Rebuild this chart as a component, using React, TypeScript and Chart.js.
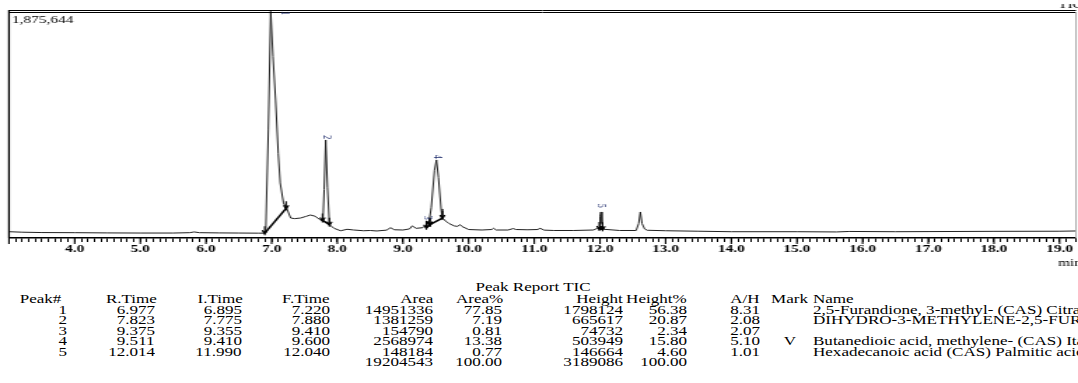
import React, { useEffect, useRef } from 'react';
import { Chart, registerables } from 'chart.js';

Chart.register(...registerables);

// ---------- data ----------
const traceTime = [
  3.0, 3.2, 3.5, 4.0, 4.5, 5.0, 5.5, 5.75, 5.82, 5.9, 6.2, 6.5, 6.8, 6.88,
  6.91, 6.95, 6.985, 7.02, 7.06, 7.1, 7.13, 7.18, 7.24, 7.29, 7.35, 7.44, 7.52, 7.59, 7.66, 7.74, 7.78,
  7.8, 7.823, 7.85, 7.88, 7.95, 8.05, 8.15, 8.25, 8.4, 8.5, 8.6, 8.75, 8.81, 8.87, 9.0, 9.1, 9.14, 9.2,
  9.3, 9.36, 9.375, 9.39, 9.43, 9.48, 9.51, 9.54, 9.58, 9.6, 9.65, 9.7, 9.78, 9.83, 9.87, 9.9, 10.0,
  10.2, 10.35, 10.38, 10.42, 10.6, 10.68, 10.72, 10.9, 11.05, 11.09, 11.15, 11.3, 11.6, 11.9, 11.96,
  11.99, 12.0, 12.014, 12.03, 12.06, 12.3, 12.55, 12.59, 12.615, 12.64, 12.68, 12.72, 13.0, 13.5, 14.0,
  15.0, 15.6, 15.8, 16.5, 17.0, 18.0, 19.0, 19.25,
];
const traceIntensity = [
  52000, 48000, 45000, 44000, 42000, 41000, 41000, 44000, 50000, 44000, 42000, 41000, 40000, 40000,
  60000, 900000, 1872000, 1500000, 1140000, 700000, 455000, 290000, 231000, 165000, 160000, 165000, 178000, 190000, 180000, 150000, 140000,
  400000, 810000, 420000, 110000, 80000, 60000, 72000, 66000, 60000, 62000, 58000, 65000, 85000, 68000, 66000, 75000, 100000, 80000,
  85000, 110000, 135000, 110000, 250000, 560000, 645000, 500000, 240000, 165000, 140000, 120000, 100000, 96000, 110000, 95000, 70000,
  66000, 70000, 80000, 66000, 66000, 78000, 70000, 68000, 70000, 80000, 65000, 62000, 62000, 66000, 80000,
  75000, 180000, 215000, 120000, 72000, 62000, 62000, 120000, 215000, 120000, 75000, 64000, 60000, 56000, 52000,
  52000, 50000, 54000, 52000, 53000, 55000, 56000, 58000,
];
const yTop = 1875644;
const xStart = 3.0;
const xEnd = 19.25;

// peak table
const peakNo = ['1', '2', '3', '4', '5'];
const rTime = ['6.977', '7.823', '9.375', '9.511', '12.014'];
const iTime = ['6.895', '7.775', '9.355', '9.410', '11.990'];
const fTime = ['7.220', '7.880', '9.410', '9.600', '12.040'];
const area = ['14951336', '1381259', '154790', '2568974', '148184'];
const areaPct = ['77.85', '7.19', '0.81', '13.38', '0.77'];
const height = ['1798124', '665617', '74732', '503949', '146664'];
const heightPct = ['56.38', '20.87', '2.34', '15.80', '4.60'];
const aOverH = ['8.31', '2.08', '2.07', '5.10', '1.01'];
const mark = ['', '', '', 'V', ''];
const names = [
  '2,5-Furandione, 3-methyl- (CAS) Citraconic anhydride',
  'DIHYDRO-3-METHYLENE-2,5-FURANDIONE',
  '',
  'Butanedioic acid, methylene- (CAS) Itaconic acid',
  'Hexadecanoic acid (CAS) Palmitic acid',
];
const totalArea = '19204543';
const totalAreaPct = '100.00';
const totalHeight = '3189086';
const totalHeightPct = '100.00';

// integration baselines (value at start / end of each peak)
const baseStartValue = [40000, 145000, 85000, 110000, 75000];
const baseEndValue = [245000, 110000, 110000, 165000, 72000];

// peak number annotations
const peakLabelTime = [7.2, 7.823, 9.375, 9.511, 12.014];
const peakLabelValue = [1860000, 815000, 150000, 655000, 250000];

// ---------- layout ----------
const S = 1.4; // horizontal stretch of the chart picture
const CW = 1078;
const CH = 270;
const FONT = "'Liberation Serif', 'Times New Roman', serif";

const decor = {
  id: 'decor',
  afterDraw(chart: any) {
    const { ctx, chartArea: a, scales } = chart;
    const x = scales.x;
    const y = scales.y;
    ctx.save();
    ctx.strokeStyle = '#000';
    // left border
    ctx.lineWidth = 1.3;
    ctx.beginPath();
    ctx.moveTo(a.left, 10);
    ctx.lineTo(a.left, a.bottom);
    ctx.stroke();
    // top double border
    ctx.lineWidth = 1;
    [10.5, 12.5].forEach((yy) => {
      ctx.beginPath();
      ctx.moveTo(a.left, yy);
      ctx.lineTo(a.right, yy);
      ctx.stroke();
    });
    // right border
    ctx.strokeStyle = '#aaa';
    ctx.beginPath();
    ctx.moveTo(a.right, 12);
    ctx.lineTo(a.right, a.bottom);
    ctx.stroke();
    // major ticks longer
    ctx.strokeStyle = '#000';
    ctx.lineWidth = 1.1;
    for (let v = Math.ceil(xStart); v <= xEnd; v++) {
      const px = x.getPixelForValue(v);
      ctx.beginPath();
      ctx.moveTo(px, a.bottom);
      ctx.lineTo(px, a.bottom + 6);
      ctx.stroke();
    }
    // boundary arrows
    ctx.lineWidth = 1.1;
    const arrow = (t: number, v: number) => {
      const px = x.getPixelForValue(t);
      const py = y.getPixelForValue(v);
      ctx.beginPath();
      ctx.moveTo(px, py - 7);
      ctx.lineTo(px, py + 2);
      ctx.moveTo(px - 1.8, py - 3);
      ctx.lineTo(px, py + 1);
      ctx.lineTo(px + 1.8, py - 3);
      ctx.stroke();
    };
    for (let i = 0; i < iTime.length; i++) {
      arrow(parseFloat(iTime[i]), baseStartValue[i]);
      arrow(parseFloat(fTime[i]), baseEndValue[i]);
    }
    // peak numbers, rotated
    ctx.fillStyle = '#1d2b6b';
    ctx.font = `8px ${FONT}`;
    ctx.textAlign = 'center';
    ctx.textBaseline = 'middle';
    for (let i = 0; i < peakNo.length; i++) {
      const px = x.getPixelForValue(peakLabelTime[i]);
      const py = Math.max(a.top + 2, y.getPixelForValue(peakLabelValue[i]) - 2);
      ctx.save();
      ctx.translate(px, py);
      ctx.rotate(Math.PI / 2);
      ctx.fillText(peakNo[i], 0, 0);
      ctx.restore();
    }
    // texts
    ctx.fillStyle = '#000';
    ctx.textAlign = 'left';
    ctx.textBaseline = 'alphabetic';
    ctx.font = `11px ${FONT}`;
    ctx.fillText('1,875,644', 12 / S, 22.5);
    ctx.save();
    ctx.beginPath();
    ctx.rect(0, 4, chart.width, 6);
    ctx.clip();
    ctx.fillText('TIC', 1058 / S, 7.5);
    ctx.restore();
    ctx.font = `11px ${FONT}`;
    ctx.fillText('min', 1058 / S, 266);
    ctx.restore();
  },
};

const tableRows = [
  { t: 'Peak#', right: 61, vright: 67, vals: peakNo, total: '' },
  { t: 'R.Time', right: 157, vright: 155, vals: rTime, total: '' },
  { t: 'I.Time', right: 243, vright: 242, vals: iTime, total: '' },
  { t: 'F.Time', right: 330, vright: 330, vals: fTime, total: '' },
  { t: 'Area', right: 433, vright: 433, vals: area, total: totalArea },
  { t: 'Area%', right: 503, vright: 502, vals: areaPct, total: totalAreaPct },
  { t: 'Height', right: 623, vright: 623, vals: height, total: totalHeight },
  { t: 'Height%', right: 687, vright: 687, vals: heightPct, total: totalHeightPct },
  { t: 'A/H', right: 760, vright: 760, vals: aOverH, total: '' },
];
const TS = 1.42;
const rowY0 = 309.5;
const rowDY = 10.5;

function Cell(props: { text: string; right?: number; left?: number; center?: number; y: number }) {
  const { text, right, left, center, y } = props;
  const style: any = {
    position: 'absolute',
    top: y - 7,
    fontFamily: FONT,
    fontSize: 12,
    lineHeight: '14px',
    whiteSpace: 'nowrap',
    color: '#000',
  };
  if (right !== undefined) {
    style.right = CW - right;
    style.transform = `scaleX(${TS})`;
    style.transformOrigin = 'right center';
  } else if (left !== undefined) {
    style.left = left;
    style.transform = `scaleX(${TS})`;
    style.transformOrigin = 'left center';
  } else if (center !== undefined) {
    style.left = center;
    style.transform = `translateX(-50%) scaleX(${TS})`;
    style.transformOrigin = 'center center';
  }
  return <span style={style}>{text}</span>;
}

export default function App() {
  const ref = useRef<HTMLCanvasElement>(null);

  useEffect(() => {
    const canvas = ref.current;
    if (!canvas) return;
    const baseSets = iTime.map((it, i) => ({
      data: [
        { x: parseFloat(it), y: baseStartValue[i] },
        { x: parseFloat(fTime[i]), y: baseEndValue[i] },
      ],
      borderColor: '#000',
      borderWidth: 1.6,
      pointRadius: 0,
      tension: 0,
    }));
    const chart = new Chart(canvas, {
      type: 'line',
      data: {
        datasets: [
          {
            data: traceTime.map((t, i) => ({ x: t, y: traceIntensity[i] })),
            borderColor: '#222',
            borderWidth: 1,
            pointRadius: 0,
            tension: 0,
          },
          ...baseSets,
        ],
      },
      options: {
        animation: false,
        responsive: true,
        maintainAspectRatio: false,
        layout: { padding: { top: 11, left: 9 / S, right: (CW - 1076) / S, bottom: 2 } },
        plugins: { legend: { display: false }, tooltip: { enabled: false }, title: { display: false } },
        scales: {
          x: {
            type: 'linear',
            min: xStart,
            max: xEnd,
            afterFit: (s: any) => {
              s.height = 30;
            },
            border: { display: true, color: '#000', width: 1.4 },
            grid: { drawOnChartArea: false, drawTicks: true, tickLength: 4, color: '#000', tickWidth: 1 },
            ticks: {
              stepSize: 0.1,
              autoSkip: false,
              maxRotation: 0,
              minRotation: 0,
              padding: 1,
              color: '#000',
              font: { family: FONT, size: 11, weight: 'bold' },
              callback: (v: any) => {
                const r = Math.round(Number(v) * 10);
                return r % 10 === 0 && r >= 40 ? (r / 10).toFixed(1) : '';
              },
            },
          },
          y: { type: 'linear', display: false, min: 0, max: yTop },
        },
      },
      plugins: [decor],
    } as any);
    return () => chart.destroy();
  }, []);

  return (
    <div
      style={{
        position: 'absolute',
        left: 0,
        top: 0,
        width: CW,
        height: 383,
        overflow: 'hidden',
        background: '#fff',
      }}
    >
      <div
        style={{
          position: 'absolute',
          left: 0,
          top: 0,
          width: CW / S,
          height: CH,
          transform: `scaleX(${S})`,
          transformOrigin: '0 0',
        }}
      >
        <canvas ref={ref} />
      </div>
      <Cell text="Peak Report TIC" center={533} y={286.5} />
      {tableRows.map((c) => (
        <React.Fragment key={c.t}>
          <Cell text={c.t} right={c.right} y={298.5} />
          {c.vals.map((v, i) => (
            <Cell key={i} text={v} right={c.vright} y={rowY0 + i * rowDY} />
          ))}
          {c.total ? <Cell text={c.total} right={c.vright} y={rowY0 + 5 * rowDY} /> : null}
        </React.Fragment>
      ))}
      <Cell text="Mark" left={771} y={298.5} />
      {mark.map((m, i) => (m ? <Cell key={'m' + i} text={m} center={790} y={rowY0 + i * rowDY} /> : null))}
      <Cell text="Name" left={813} y={298.5} />
      {names.map((n, i) => (n ? <Cell key={'n' + i} text={n} left={813} y={rowY0 + i * rowDY} /> : null))}
    </div>
  );
}
